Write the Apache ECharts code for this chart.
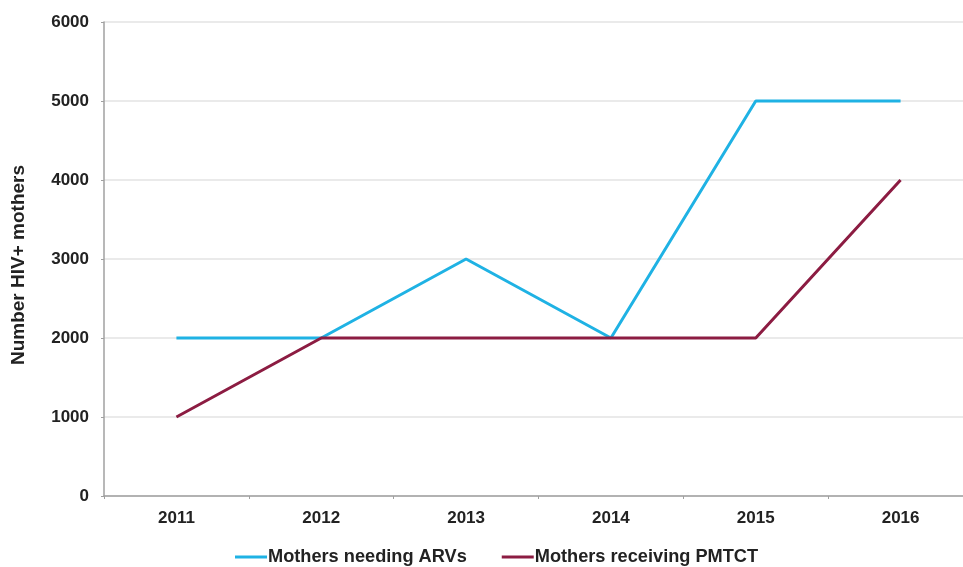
<!DOCTYPE html>
<html>
<head>
<meta charset="utf-8">
<script src="https://cdn.jsdelivr.net/npm/echarts@6/dist/echarts.min.js"></script>
<style>
  html, body { margin: 0; padding: 0; background: #fff; }
  #chart { width: 963px; height: 567px; }
</style>
</head>
<body>
<div id="chart"></div>
<script>
const years = ['2011', '2012', '2013', '2014', '2015', '2016']
const needingArvs = [2000, 2000, 3000, 2000, 5000, 5000]
const receivingPmtct = [1000, 2000, 2000, 2000, 2000, 4000]
const seriesNames = ['Mothers needing ARVs', 'Mothers receiving PMTCT']

const font = 'Liberation Sans, Arial, sans-serif'
const chart = echarts.init(document.getElementById('chart'))

chart.setOption({
  backgroundColor: '#fff',
  animation: false,
  color: ['#1fb2e4', '#8c1c42'],
  // plot runs slightly past the right edge, like the cropped original
  grid: { left: 104, width: 869, top: 22, bottom: 71, outerBoundsMode: 'none', containLabel: false },
  legend: {
    top: 543,
    left: 230,
    itemWidth: 32,
    itemHeight: 3,
    itemGap: 35,
    icon: 'rect',
    textStyle: { fontFamily: font, fontWeight: 'bold', fontSize: 18.2, color: '#222', padding: [0, 0, 0, -4] },
    data: seriesNames
  },
  xAxis: {
    type: 'category',
    data: years,
    boundaryGap: true,
    axisLine: { lineStyle: { color: '#a0a0a0', width: 1.5 } },
    axisTick: { show: true, length: 3, lineStyle: { color: '#a0a0a0' } },
    axisLabel: { fontFamily: font, fontWeight: 'bold', fontSize: 17, color: '#222', margin: 14 }
  },
  yAxis: {
    type: 'value',
    min: 0,
    max: 6000,
    interval: 1000,
    name: 'Number HIV+ mothers',
    nameLocation: 'middle',
    nameGap: 76,
    nameTextStyle: { fontFamily: font, fontWeight: 'bold', fontSize: 19, color: '#222', padding: [0, 12, 0, 0] },
    axisLine: { show: true, lineStyle: { color: '#a0a0a0', width: 1.5 } },
    axisTick: { show: true, length: 3, lineStyle: { color: '#a0a0a0' } },
    axisLabel: { fontFamily: font, fontWeight: 'bold', fontSize: 17, color: '#222', margin: 15, formatter: v => String(v) },
    splitLine: { lineStyle: { color: '#e3e3e3', width: 1.5 } }
  },
  series: [
    {
      name: seriesNames[0],
      type: 'line',
      data: needingArvs,
      symbol: 'none',
      lineStyle: { width: 3 }
    },
    {
      name: seriesNames[1],
      type: 'line',
      data: receivingPmtct,
      symbol: 'none',
      lineStyle: { width: 3 }
    }
  ]
})
</script>
</body>
</html>
